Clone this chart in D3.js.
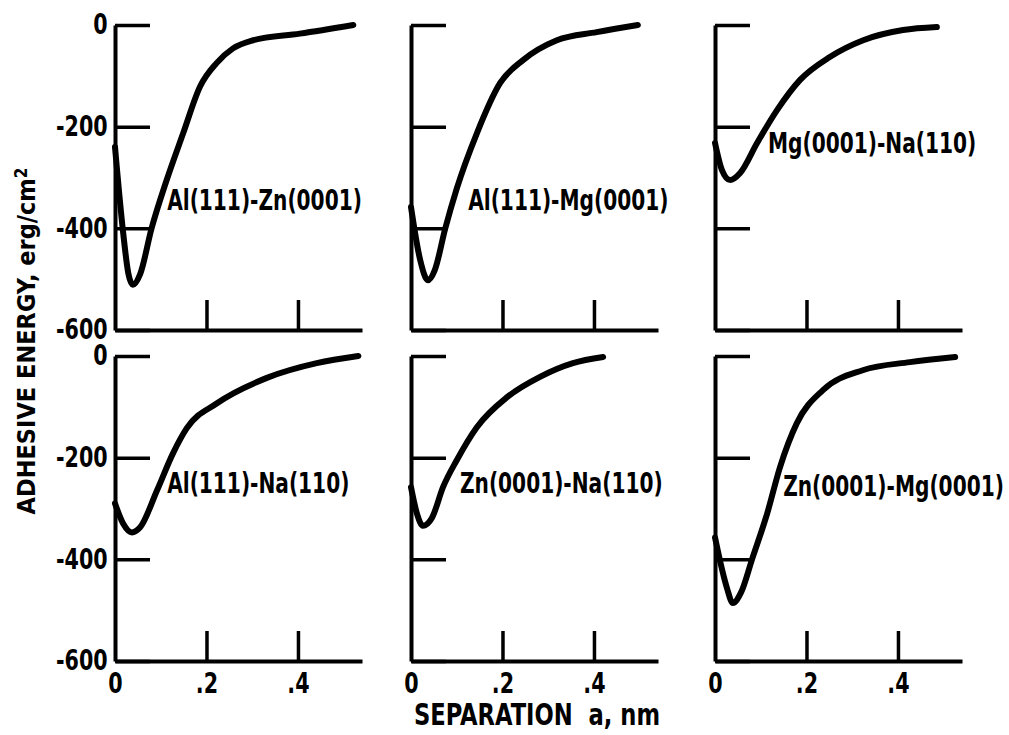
<!DOCTYPE html>
<html>
<head>
<meta charset="utf-8">
<script src="https://cdn.jsdelivr.net/npm/d3@7"></script>
<style>
  body { margin: 0; background: #fff; }
  svg text { font-family: "DejaVu Sans Condensed", "DejaVu Sans", sans-serif; font-weight: bold; fill: #000; }
</style>
</head>
<body>
<div id="chart"></div>
<script>
// panel titles (row by row)
const pairNames = ["Al(111)-Zn(0001)", "Al(111)-Mg(0001)", "Mg(0001)-Na(110)",
                   "Al(111)-Na(110)", "Zn(0001)-Na(110)", "Zn(0001)-Mg(0001)"];

// separation a, nm  /  adhesive energy, erg/cm2
const sepAlZn    = [0, 0.018, 0.029, 0.039, 0.055, 0.08, 0.113, 0.149, 0.186, 0.222, 0.258, 0.302, 0.404, 0.521];
const energyAlZn = [-240, -410, -488, -511, -490, -400, -305, -213, -121, -75, -46, -30, -17, 0];

const sepAlMg    = [0, 0.02, 0.037, 0.052, 0.075, 0.1, 0.144, 0.195, 0.245, 0.319, 0.406, 0.496];
const energyAlMg = [-358, -462, -502, -482, -400, -322, -213, -114, -69, -30, -14, 0];

const sepMgNa    = [0, 0.015, 0.033, 0.055, 0.092, 0.136, 0.186, 0.251, 0.324, 0.411, 0.485];
const energyMgNa = [-232, -285, -305, -291, -232, -167, -108, -63, -30, -10, -4];

const sepAlNa    = [0, 0.018, 0.037, 0.055, 0.092, 0.127, 0.157, 0.223, 0.332, 0.441, 0.532];
const energyAlNa = [-290, -330, -347, -337, -264, -191, -142, -93, -43, -14, 0];

const sepZnNa    = [0, 0.013, 0.026, 0.046, 0.07, 0.1, 0.144, 0.21, 0.282, 0.354, 0.42];
const energyZnNa = [-258, -310, -334, -318, -258, -205, -140, -81, -41, -14, -2];

const sepZnMg    = [0, 0.011, 0.026, 0.039, 0.057, 0.081, 0.114, 0.142, 0.179, 0.236, 0.323, 0.426, 0.525];
const energyZnMg = [-357, -403, -456, -486, -465, -400, -310, -219, -132, -67, -28, -12, -2];

// where each panel title sits, in data units [a, energy]
const titleSep    = [0.114, 0.125, 0.116, 0.114, 0.107, 0.149];
const titleEnergy = [-344, -344, -232, -249, -249, -255];

const yTicks = [0, -200, -400, -600];
const xTicks = [0, 0.2, 0.4];
const xTickLabels = ["0", ".2", ".4"];

const series = [
    [sepAlZn, energyAlZn], [sepAlMg, energyAlMg], [sepMgNa, energyMgNa],
    [sepAlNa, energyAlNa], [sepZnNa, energyZnNa], [sepZnMg, energyZnMg]
];

const width = 1009, height = 735;
const colLeft = [115, 411, 715];
const rowTop = [25, 356];
const panelW = 247, panelH = 305;
const squeeze = "scale(0.8,1)";   // narrow lettering like the original

const svg = d3.select("#chart").append("svg")
    .attr("width", width)
    .attr("height", height);

series.forEach((s, i) => {
    const col = i % 3, row = Math.floor(i / 3);
    const g = svg.append("g")
        .attr("transform", `translate(${colLeft[col]},${rowTop[row]})`);

    const x = d3.scaleLinear().domain([0, 0.54]).range([0, panelW]);
    const y = d3.scaleLinear().domain([-600, 0]).range([panelH, 0]);

    // y axis: ticks pointing into the plot
    const yAxis = g.append("g")
        .call(d3.axisLeft(y).tickValues(yTicks).tickSize(-35).tickSizeOuter(0).tickPadding(9)
            .tickFormat(col === 0 ? d => String(d) : () => ""));

    // x axis: ticks pointing up
    const xAxis = g.append("g")
        .attr("transform", `translate(0,${panelH})`)
        .call(d3.axisBottom(x).tickValues(xTicks).tickSize(-30).tickSizeOuter(0).tickPadding(12)
            .tickFormat(row === 1 ? (d, k) => xTickLabels[k] : () => ""));

    [yAxis, xAxis].forEach(ax => {
        ax.select(".domain").attr("stroke", "#000").attr("stroke-width", 4);
        ax.selectAll(".tick line").attr("stroke", "#000").attr("stroke-width", 3.5);
        ax.selectAll(".tick text")
            .style("font-size", "28px")
            .attr("fill", "#000")
            .attr("transform", "scale(0.82,1)");
    });
    xAxis.selectAll(".tick").filter(d => d === 0).select("line").remove();

    const line = d3.line()
        .x((d, k) => x(s[0][k]))
        .y(d => y(d))
        .curve(d3.curveMonotoneX);

    g.append("path")
        .datum(s[1])
        .attr("d", line)
        .attr("fill", "none")
        .attr("stroke", "#000")
        .attr("stroke-width", 6)
        .attr("stroke-linecap", "round")
        .attr("stroke-linejoin", "round");

    g.append("text")
        .attr("transform", `translate(${x(titleSep[i])},${y(titleEnergy[i])}) ${squeeze}`)
        .attr("dy", "0.36em")
        .style("font-size", "28px")
        .text(pairNames[i]);
});

// axis titles
const yTitle = svg.append("text")
    .attr("transform", "translate(35,341) rotate(-90)")
    .attr("text-anchor", "middle")
    .style("font-size", "25px");
yTitle.append("tspan").text("ADHESIVE ENERGY, erg/cm");
yTitle.append("tspan").attr("dy", "-0.45em").style("font-size", "17px").text("2");

svg.append("text")
    .attr("transform", "translate(537,725) scale(0.84,1)")
    .attr("text-anchor", "middle")
    .style("font-size", "30px")
    .text("SEPARATION\u00a0\u00a0a, nm");
</script>
</body>
</html>
